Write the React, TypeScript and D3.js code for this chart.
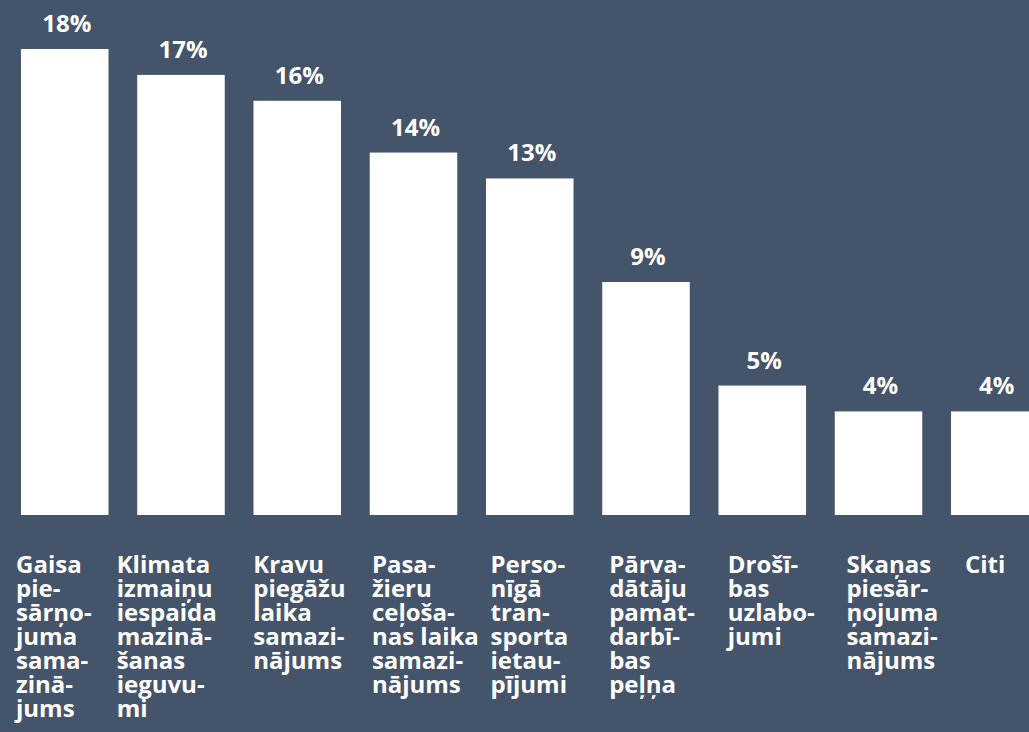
import * as d3 from "d3";
import { useRef, useEffect } from "react";

// kategorijas (kā tās ir sadalītas rindās attēlā)
const categoryLines: string[][] = [
  ["Gaisa", "pie-", "sārņo-", "juma", "sama-", "zinā-", "jums"],
  ["Klimata", "izmaiņu", "iespaida", "mazinā-", "šanas", "ieguvu-", "mi"],
  ["Kravu", "piegāžu", "laika", "samazi-", "nājums"],
  ["Pasa-", "žieru", "ceļoša-", "nas laika", "samazi-", "nājums"],
  ["Perso-", "nīgā", "tran-", "sporta", "ietau-", "pījumi"],
  ["Pārva-", "dātāju", "pamat-", "darbī-", "bas", "peļņa"],
  ["Drošī-", "bas", "uzlabo-", "jumi"],
  ["Skaņas", "piesār-", "ņojuma", "samazi-", "nājums"],
  ["Citi"],
];
const categories = categoryLines.map((l) => l.join(" "));
const values = [18, 17, 16, 14, 13, 9, 5, 4, 4];

const W = 1029;
const H = 732;
const BG = "#44546a";
const FONT = "'Open Sans', 'Noto Sans', sans-serif";

export default function App() {
  const svgRef = useRef<SVGSVGElement>(null);

  useEffect(() => {
    document.body.style.margin = "0";
    document.body.style.background = BG;
    if (!svgRef.current) return;
    const svg = d3.select(svgRef.current);
    svg.selectAll("*").remove();

    svg.append("rect").attr("width", W).attr("height", H).attr("fill", BG);

    // stabiņu skala
    const x = d3
      .scaleBand<string>()
      .domain(categories)
      .range([6.6, 1052.9])
      .paddingInner(0.247)
      .paddingOuter(0.1235);
    const y = d3.scaleLinear().domain([0, 18]).range([515, 49]);

    // etiķešu skala (teksts ir izlīdzināts pa kreisi)
    const lx = d3.scalePoint<string>().domain(categories).range([16, 965]);

    svg
      .selectAll(".bar")
      .data(values)
      .enter()
      .append("rect")
      .attr("class", "bar")
      .attr("x", (_, i) => x(categories[i])!)
      .attr("y", (d) => y(d))
      .attr("width", x.bandwidth())
      .attr("height", (d) => y(0) - y(d))
      .attr("fill", "#ffffff");

    svg
      .selectAll(".val")
      .data(values)
      .enter()
      .append("text")
      .attr("class", "val")
      .attr("x", (_, i) => x(categories[i])! + x.bandwidth() / 2 + 2)
      .attr("y", (d) => y(d) - 17)
      .attr("text-anchor", "middle")
      .attr("font-family", FONT)
      .attr("font-weight", 700)
      .attr("font-size", 24)
      .attr("fill", "#ffffff")
      .text((d) => `${d}%`);

    const labels = svg
      .selectAll(".cat")
      .data(categoryLines)
      .enter()
      .append("text")
      .attr("class", "cat")
      .attr("font-family", FONT)
      .attr("font-weight", 700)
      .attr("font-size", 24)
      .attr("fill", "#ffffff")
      .attr("transform", (_, i) => `translate(${lx(categories[i])! - (i === 1 ? 18 : 0)},573)`);

    labels
      .selectAll("tspan")
      .data((d) => d)
      .enter()
      .append("tspan")
      .attr("x", 0)
      .attr("y", (_, j) => j * 24)
      .text((d) => d);
  }, []);

  return (
    <svg
      ref={svgRef}
      width={W}
      height={H}
      style={{ display: "block", position: "absolute", left: 0, top: 0 }}
    />
  );
}
